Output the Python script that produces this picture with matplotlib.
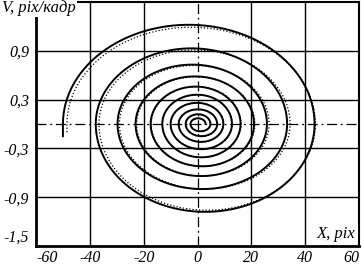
import numpy as np
import matplotlib
matplotlib.use('Agg')
import matplotlib.pyplot as plt

# Turning points of the phase trajectory (solid trace)
start_v = -0.15
left_x = [-50.0, -37.8, -29.7, -23.0, -17.4, -13.1, -10.0, -7.0, -4.4, -2.6]
right_x = [43.5, 33.3, 25.8, 21.0, 16.0, 12.8, 9.6, 7.3, 4.8, 3.0]
top_v = [1.22, 0.93, 0.73, 0.585, 0.46, 0.36, 0.26, 0.18, 0.12, 0.07]
bottom_v = [-1.08, -0.80, -0.64, -0.52, -0.41, -0.31, -0.22, -0.15, -0.09]

# Dotted trace
dot_start_v = -0.10
dot_left_x = [-48.5, -36.6, -29.0, -22.6, -17.2, -13.0, -9.9, -7.0, -4.4, -2.6]
dot_right_x = [43.8, 34.4, 26.6, 21.3, 16.2, 12.9, 9.7, 7.3, 4.8, 3.0]
dot_top_v = [1.19, 0.91, 0.72, 0.58, 0.46, 0.36, 0.26, 0.18, 0.12, 0.07]
dot_bottom_v = [-1.06, -0.80, -0.64, -0.52, -0.41, -0.31, -0.22, -0.15, -0.09]

x_ticks = [-60, -40, -20, 0, 20, 40, 60]
x_labels = ['-60', '-40', '-20', '0', '20', '40', '60']
y_ticks = [-1.5, -0.9, -0.3, 0.3, 0.9]
y_labels = ['-1,5', '-0,9', '-0,3', '0,3', '0,9']


def trajectory(v0, lx, rx, tv, bv):
    xs = [lx[0]]
    vs = [v0]
    th_top = np.linspace(np.pi, 0, 60)
    for i in range(len(lx)):
        xc = (lx[i] + rx[i]) / 2
        a = (rx[i] - lx[i]) / 2
        xs.extend(xc + a * np.cos(th_top))
        vs.extend(tv[i] * np.sin(th_top))
        if i < len(bv):
            nxt = lx[i + 1] if i + 1 < len(lx) else 0.0
            xc2 = (rx[i] + nxt) / 2
            a2 = (rx[i] - nxt) / 2
            th_b = np.linspace(0, -np.pi, 60)
            xs.extend(xc2 + a2 * np.cos(th_b))
            vs.extend(-bv[i] * np.sin(th_b))
    return np.array(xs), np.array(vs)


plt.rcParams['font.family'] = ['Liberation Serif', 'DejaVu Serif']
plt.rcParams['font.style'] = 'italic'

fig = plt.figure(figsize=(3.62, 2.66), dpi=100)
ax = fig.add_axes([36 / 362, 20 / 266, 323 / 362, 244 / 266])
ax.set_xlim(-60, 60)
ax.set_ylim(-1.5, 1.5)

for gx in [-40, -20, 20, 40]:
    ax.axvline(gx, color='black', lw=1.0, zorder=1)
for gy in [-0.9, -0.3, 0.3, 0.9]:
    ax.axhline(gy, color='black', lw=1.0, zorder=1)
ax.axvline(0, color='black', lw=0.9, ls=(0, (8, 3, 1.5, 3)), zorder=1)
ax.axhline(0, color='black', lw=0.9, ls=(0, (8, 3, 1.5, 3)), zorder=1)

dx, dv = trajectory(dot_start_v, dot_left_x, dot_right_x, dot_top_v, dot_bottom_v)
ax.plot(dx, dv, color='black', lw=0.9, ls=(0, (1, 1.6)), zorder=2)
sx, sv = trajectory(start_v, left_x, right_x, top_v, bottom_v)
ax.plot(sx, sv, color='black', lw=1.4, zorder=3)

ax.set_xticks(x_ticks)
ax.set_xticklabels(x_labels)
ax.set_yticks(y_ticks)
ax.set_yticklabels(y_labels)
ax.tick_params(length=0, labelsize=11.5, colors='black')
ax.tick_params(axis='x', pad=3)
ax.tick_params(axis='y', pad=5)
xl = ax.get_xticklabels()
xl[0].set_ha('left')
xl[-1].set_ha('right')
ax.get_yticklabels()[0].set_va('bottom')

ax.spines['left'].set_linewidth(2.0)
ax.spines['bottom'].set_linewidth(2.0)
ax.spines['top'].set_linewidth(1.5)
ax.spines['right'].set_linewidth(1.5)

ax.text(0.99, 0.015, 'X, pix', transform=ax.transAxes, ha='right', va='bottom',
        fontsize=12, bbox=dict(facecolor='white', edgecolor='none', pad=1.5), zorder=5)
fig.text(2 / 362, 1 - 8 / 266, 'V, pix/кадр', ha='left', va='center', fontsize=12,
         bbox=dict(facecolor='white', edgecolor='none', pad=1.0), zorder=10)

fig.savefig('out.png', dpi=100)
